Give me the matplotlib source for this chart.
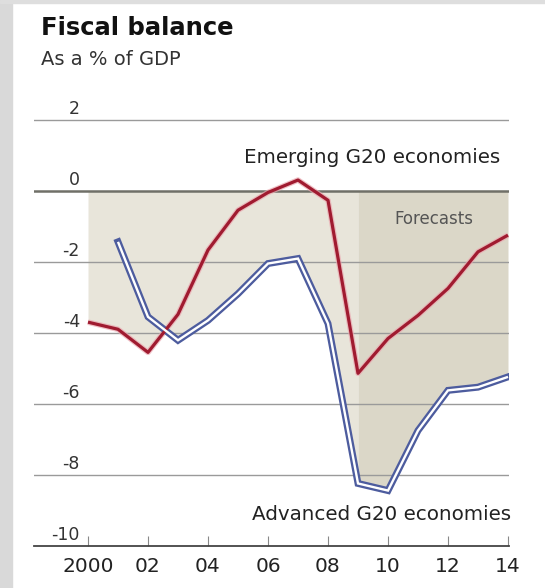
import numpy as np
import matplotlib
matplotlib.use("Agg")
import matplotlib.pyplot as plt
from matplotlib.patches import Rectangle

plt.rcParams['font.family'] = ['DejaVu Sans']

# Fiscal balance, % of GDP
years = [2000, 2001, 2002, 2003, 2004, 2005, 2006, 2007,
         2008, 2009, 2010, 2011, 2012, 2013, 2014]
emerging = [-3.70, -3.90, -4.55, -3.48, -1.67, -0.55, -0.05, 0.30,
            -0.27, -5.14, -4.16, -3.51, -2.75, -1.72, -1.25]
advanced = [np.nan, -1.44, -3.55, -4.21, -3.65, -2.90, -2.05, -1.91,
            -3.74, -8.24, -8.44, -6.75, -5.62, -5.53, -5.24]
forecast_start = 2009

y_ticks = [2, 0, -2, -4, -6, -8, -10]
y_tick_labels = ["2", "0", "-2", "-4", "-6", "-8", "-10"]
x_ticks = [2000, 2002, 2004, 2006, 2008, 2010, 2012, 2014]
x_tick_labels = ["2000", "02", "04", "06", "08", "10", "12", "14"]

W, H = 545, 588
fig = plt.figure(figsize=(W / 100, H / 100), dpi=100)
fig.patch.set_facecolor("white")

# light grey frame strips on the left and top edges
fig.patches.append(Rectangle((0, 0), 12 / W, 1, transform=fig.transFigure,
                             color="#d9d9d9", zorder=0))
fig.patches.append(Rectangle((0, 1 - 3 / H), 1, 3 / H, transform=fig.transFigure,
                             color="#dedede", zorder=0))

# axes geometry: 2000 -> 88px, 2014 -> 508px, 0 -> 190.7px, -10 -> 546px
px_per_year = 30.0
px_per_unit = 35.53
x_left_px, x_right_px = 34, 509
x0 = 2000 - (88 - x_left_px) / px_per_year
x1 = 2014 + (x_right_px - 508) / px_per_year
y_top_val = 2.5
top_px = 190.7 - y_top_val * px_per_unit
bottom_px = 546
ax = fig.add_axes([x_left_px / W, 1 - bottom_px / H,
                   (x_right_px - x_left_px) / W, (bottom_px - top_px) / H])
ax.set_xlim(x0, x1)
ax.set_ylim(-10, y_top_val)
ax.set_facecolor("none")

# shaded band between zero and the lower of the two series
yrs = np.array(years, dtype=float)
em = np.array(emerging)
adv = np.array(advanced)
ok = ~np.isnan(adv)
xs = np.linspace(yrs[0], yrs[-1], 1401)
em_i = np.interp(xs, yrs, em)
adv_i = np.interp(xs, yrs[ok], adv[ok])
adv_i[xs < yrs[ok][0]] = np.nan
lower = np.fmin(em_i, adv_i)
hist = xs <= forecast_start
fut = xs >= forecast_start
ax.fill_between(xs[hist], 0, lower[hist], color="#e8e5da", lw=0, zorder=1)
ax.fill_between(xs[fut], 0, lower[fut], color="#dbd7c8", lw=0, zorder=1)

# gridlines and y labels
for v, lab in zip(y_ticks, y_tick_labels):
    if v == -10:
        pass
    elif v == 0:
        ax.axhline(v, color="#707068", lw=1.8, zorder=2)
    else:
        ax.axhline(v, color="#9a9a9a", lw=1.0, zorder=2)
    ax.text(1999.73, v + 0.17, lab, ha="right", va="baseline",
            fontsize=12.5, color="#333333", zorder=5)

# series lines
ax.plot(years, emerging, color="#eaa8b0", lw=4.0, alpha=0.7, zorder=3,
        solid_capstyle="butt")
ax.plot(years, emerging, color="#a01b30", lw=2.3, zorder=4,
        solid_capstyle="butt")
ax.plot(years, advanced, color="#4d5c9e", lw=5.0, zorder=3,
        solid_capstyle="projecting", solid_joinstyle="miter")
ax.plot(years, advanced, color="white", lw=1.7, zorder=4,
        solid_capstyle="butt", solid_joinstyle="miter")

# annotations
ax.text(2013.73, 0.78, "Emerging G20 economies", ha="right", va="baseline",
        fontsize=14.3, color="#222222", zorder=5)
ax.text(2014.1, -9.27, "Advanced G20 economies", ha="right", va="baseline",
        fontsize=14.3, color="#222222", zorder=5)
ax.text(2011.52, -0.93, "Forecasts", ha="center", va="baseline",
        fontsize=12, color="#555555", zorder=5)

# axes styling
for s in ("left", "right", "top"):
    ax.spines[s].set_visible(False)
ax.spines["bottom"].set_color("#444444")
ax.spines["bottom"].set_linewidth(1.3)
ax.set_yticks([])
ax.set_xticks(x_ticks)
ax.set_xticklabels(x_tick_labels)
ax.tick_params(axis="x", direction="in", length=7, width=0.8, color="#888888",
               pad=8, labelsize=14.5, labelcolor="#222222")

# title and subtitle
fig.text(41 / W, 1 - 35 / H, "Fiscal balance", fontsize=17.5, fontweight="bold",
         color="#111111", ha="left", va="baseline")
fig.text(41 / W, 1 - 65 / H, "As a % of GDP", fontsize=14, color="#333333",
         ha="left", va="baseline")

fig.savefig("out.png", dpi=100)
